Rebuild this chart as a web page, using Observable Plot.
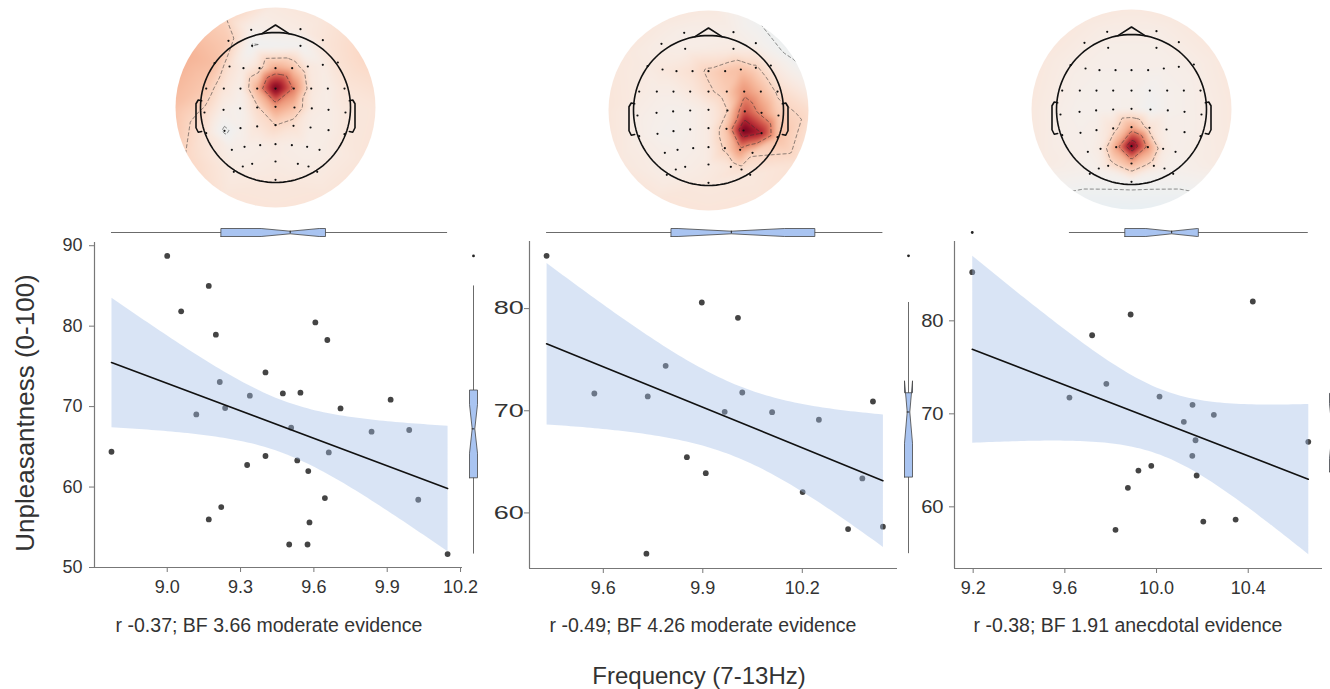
<!DOCTYPE html>
<html><head><meta charset="utf-8">
<script src="https://cdn.jsdelivr.net/npm/d3@7"></script>
<script src="https://cdn.jsdelivr.net/npm/@observablehq/plot@0.6"></script>
<style>
body{margin:0;background:#fff;overflow:hidden;font-family:"Liberation Sans",Arial,sans-serif;}
#root{position:relative;width:1330px;height:689px;overflow:hidden;background:#fff;}
#root > svg, #root > div{position:absolute;}
.txt{color:#333;white-space:nowrap;transform:translate(-50%,-50%);}
</style></head><body><div id="root"></div><script>
// ---------- scatter data (frequency vs unpleasantness) ----------
const p1Freq = [8.772,9.00,9.170,9.057,9.199,9.606,9.655,9.402,9.215,9.338,9.119,9.237,9.473,9.545,9.709,9.914,9.507,9.836,9.990,9.661,9.402,9.327,9.532,9.577,9.645,10.027,9.221,9.170,9.582,9.499,9.574,10.147];
const p1Unpl = [64.39,88.73,85.0,81.84,78.94,80.47,78.28,74.25,73.06,71.36,69.03,69.83,71.64,71.73,69.78,70.86,67.38,66.88,67.09,64.30,63.86,62.74,63.31,61.99,58.63,58.42,57.51,55.97,55.60,52.86,52.86,51.67];
const p2Freq = [9.429,9.897,10.006,9.788,9.573,9.734,10.019,9.966,10.109,10.250,10.413,9.852,9.909,10.381,10.201,10.338,10.443,9.730];
const p2Unpl = [85.17,80.60,79.10,74.40,71.69,71.40,71.79,69.90,69.86,69.12,70.91,65.46,63.89,63.38,62.04,58.42,58.65,56.01];
const p3Freq = [9.196,10.420,9.887,9.719,9.781,9.620,10.013,10.157,10.250,10.119,10.170,10.662,10.156,9.977,9.921,10.175,9.875,10.345,10.204,9.821];
const p3Unpl = [85.23,82.08,80.68,78.45,73.23,71.75,71.86,70.97,69.89,69.14,67.16,66.99,65.48,64.41,63.90,63.37,62.04,58.63,58.42,57.53];

const p1XTicks = [9.0,9.3,9.6,9.9,10.2];
const p2XTicks = [9.6,9.9,10.2];
const p3XTicks = [9.2,9.6,10.0,10.4];
const p1YTicks = [50,60,70,80,90];
const p2YTicks = [60,70,80];
const p3YTicks = [60,70,80];
const p1XDomain = [8.7025,10.208], p1YDomain = [50,90.4];
const p2XDomain = [9.3775,10.487], p2YDomain = [54.56,86.57];
const p3XDomain = [9.1186,10.724], p3YDomain = [53.37,88.53];

const captions = ["r -0.37; BF 3.66 moderate evidence","r -0.49; BF 4.26 moderate evidence","r -0.38; BF 1.91 anecdotal evidence"];
const yTitle = "Unpleasantness (0-100)";
const xTitle = "Frequency (7-13Hz)";

// ---------- topomap data (electrode positions, head-radius units) ----------
const elecX = [-0.324,0.333,-0.627,-0.311,0.333,0.631,
 -0.813,-0.613,-0.427,-0.213,0,0.222,0.431,0.631,0.831,
 -0.924,-0.689,-0.467,-0.244,0,0.244,0.476,0.698,0.92,
 -0.947,-0.693,-0.471,-0.244,0,0.253,0.484,0.707,0.933,
 -0.924,-0.68,-0.467,-0.244,0,0.24,0.467,0.707,0.92,
 -0.582,-0.413,-0.204,0,0.218,0.422,0.587,
 -0.556,-0.436,-0.311,0,0.298,0.44,0.556,0];
const elecY = [1.036,1.044,0.889,0.822,0.822,0.898,
 0.591,0.547,0.524,0.524,0.524,0.524,0.547,0.569,0.6,
 0.253,0.253,0.253,0.253,0.253,0.253,0.253,0.253,0.253,
 -0.067,-0.031,-0.013,0,0.009,0,-0.013,-0.031,-0.067,
 -0.342,-0.311,-0.276,-0.253,-0.236,-0.244,-0.267,-0.302,-0.356,
 -0.564,-0.524,-0.502,-0.489,-0.502,-0.524,-0.564,
 -0.858,-0.787,-0.751,-0.72,-0.751,-0.787,-0.858,-0.964];
const topo1 = [0.04,0.08,0.25,-0.03,-0.01,0.12,
 0.3,0.14,0.07,0.16,0.38,0.3,0.1,0.07,0.14,
 0.26,0.12,0.05,0.36,1.0,0.52,0.1,0.06,0.12,
 0.18,0.05,0.02,0.18,0.42,0.3,0.08,0.06,0.1,
 0.12,-0.04,0.03,0.12,0.2,0.14,0.06,0.06,0.1,
 0.05,0.05,0.06,0.08,0.06,0.05,0.06,
 0.08,0.07,0.07,0.08,0.07,0.07,0.08,0.1];
const topo2 = [0.05,0.05,0.06,0.06,0.08,0.03,
 0.08,0.1,0.12,0.15,0.22,0.28,0.3,0.22,0.1,
 0.08,0.06,0.06,0.1,0.18,0.25,0.45,0.32,0.18,
 0.06,0.04,0.03,0.04,0.08,0.2,0.65,0.45,0.25,
 0.06,0.03,0.02,0.04,0.08,0.28,1.0,0.8,0.3,
 0.05,0.04,0.05,0.08,0.22,0.45,0.22,
 0.06,0.06,0.06,0.08,0.12,0.15,0.1,0.1];
const topo3 = [0.06,0.06,0.07,0.05,0.05,0.07,
 0.06,0.05,0.04,0.04,0.04,0.04,0.04,0.05,0.06,
 0.06,0.04,0.03,0.03,0.03,0.0,0.03,0.04,0.06,
 0.05,0.03,0.03,0.03,0.04,-0.02,0.03,0.04,0.06,
 0.05,0.04,0.05,0.14,0.38,0.14,0.05,0.04,0.06,
 0.04,0.08,0.4,1.0,0.45,0.08,0.04,
 0.02,0.04,0.12,0.35,0.12,0.04,0.02,0.0];
const ringX = [1.4,1.212,0.7,0,-0.7,-1.212,-1.4,-1.212,-0.7,0,0.7,1.212];
const ringY = [0,0.7,1.212,1.4,1.212,0.7,0,-0.7,-1.212,-1.4,-1.212,-0.7];
const ring1 = [0.12,0.2,0.12,0.1,0.22,0.35,0.3,0.2,0.12,0.12,0.12,0.12];
const ring2 = [0.15,-0.05,-0.03,0.1,0.1,0.1,0.12,0.1,0.12,0.12,0.12,0.14];
const ring3 = [0.1,0.1,0.1,0.1,0.1,0.1,0.1,0.08,-0.05,-0.08,-0.05,0.08];
// head outline shapes
const noseX = [-0.18,0,0.18], noseY = [0.984,1.1,0.984];
const earX = [0.985,1.03,1.06,1.06,1.03,0.985], earY = [0.09,0.1,0.05,-0.27,-0.33,-0.32];

// ---------- drawing ----------
const root = document.getElementById("root");
const FONT = "Liberation Sans, Arial, sans-serif";
const ML = 60, MR = 10, MT = 10, MB = 40;
const NS = "http://www.w3.org/2000/svg";

function place(el, left, top) { el.style.left = left + "px"; el.style.top = top + "px"; root.appendChild(el); }

function boxStats(values) {
  const s = d3.sort(values);
  const q1 = d3.quantile(s, 0.25), med = d3.quantile(s, 0.5), q3 = d3.quantile(s, 0.75);
  const iqr = q3 - q1;
  const inside = s.filter(v => v >= q1 - 1.5 * iqr && v <= q3 + 1.5 * iqr);
  const lo = d3.min(inside), hi = d3.max(inside);
  const h = 1.57 * iqr / Math.sqrt(s.length);
  return {q1, med, q3, lo, hi, nlo: med - h, nhi: med + h, outliers: s.filter(v => v < lo || v > hi)};
}
function notch(st, w, nw) {
  return [[st.q1,-w],[st.nlo,-w],[st.med,-nw],[st.nhi,-w],[st.q3,-w],[st.q3,w],[st.nhi,w],[st.med,nw],[st.nlo,w],[st.q1,w],[st.q1,-w]];
}
const BOXFILL = "#a9c4f1";

function panel(cfg) {
  const {xs, ys, xDomain, yDomain, xTicks, yTicks, left, top, right, bottom, rightBoxX, caption, capX, yPad, yStretch} = cfg;
  const W = right - left + ML + MR, H = bottom - top + MT + MB;
  const data = xs.map((x, i) => ({x, y: ys[i]}));
  const chart = Plot.plot({
    width: W, height: H, marginLeft: ML, marginRight: MR, marginTop: MT, marginBottom: MB,
    style: {fontFamily: FONT, fontSize: "18px", color: "#333", background: "transparent", overflow: "visible"},
    x: {domain: xDomain, axis: null},
    y: {domain: yDomain, axis: null},
    marks: [
      Plot.axisX({ticks: xTicks, tickFormat: d3.format(".1f"), tickSize: 5, tickPadding: 8, stroke: "#777", fill: "#333", label: null}),
      Plot.axisY({ticks: yTicks, tickSize: 5, tickPadding: yPad, stroke: "#777", fill: "#333", label: null}),
      Plot.ruleX([xDomain[0]], {stroke: "#777", strokeWidth: 1.2}),
      Plot.ruleY([yDomain[0]], {stroke: "#777", strokeWidth: 1.2}),
      Plot.dot(data, {x: "x", y: "y", r: 2.9, fill: "#444", stroke: "none"}),
      Plot.linearRegressionY(data, {x: "x", y: "y", ci: 0.95, stroke: "#111", strokeWidth: 1.6, fill: "#a2bde6", fillOpacity: 0.41})
    ]
  });
  // horizontally stretch the y tick labels (as in the reference panels)
  const lab = chart.querySelector('g[aria-label="y-axis tick label"]');
  if (lab && yStretch !== 1) {
    const ax = ML - 5 - yPad;
    const wrap = document.createElementNS(NS, "g");
    wrap.setAttribute("transform", `translate(${ax},0) scale(${yStretch},1) translate(${-ax},0)`);
    lab.parentNode.insertBefore(wrap, lab);
    wrap.appendChild(lab);
  }
  place(chart, left - ML, top - MT);

  // top marginal notched box (x values)
  const sx = boxStats(xs);
  const topBox = Plot.plot({
    width: W, height: 24, marginLeft: ML, marginRight: MR, marginTop: 0, marginBottom: 0,
    style: {background: "transparent", overflow: "visible"},
    x: {domain: xDomain, axis: null}, y: {domain: [-12, 12], axis: null},
    marks: [
      Plot.ruleY([0], {x1: sx.lo, x2: sx.hi, stroke: "#6b6b6b", strokeWidth: 1}),
      Plot.line(notch(sx, 4, 1.3), {x: d => d[0], y: d => d[1], fill: BOXFILL, stroke: "#444", strokeWidth: 0.8}),
      Plot.ruleX([sx.med], {y1: -1.3, y2: 1.3, stroke: "#222", strokeWidth: 1}),
      Plot.dot(sx.outliers, {x: d => d, y: 0, r: 1.4, fill: "#222", stroke: "none"})
    ]
  });
  place(topBox, left - ML, 220);

  // right marginal notched box (y values)
  const sy = boxStats(ys);
  const rBox = Plot.plot({
    width: 24, height: H, marginLeft: 0, marginRight: 0, marginTop: MT, marginBottom: MB,
    style: {background: "transparent", overflow: "visible"},
    y: {domain: yDomain, axis: null}, x: {domain: [-12, 12], axis: null},
    marks: [
      Plot.ruleX([0], {y1: sy.lo, y2: sy.hi, stroke: "#6b6b6b", strokeWidth: 1}),
      Plot.line(notch(sy, 4, 1.3), {y: d => d[0], x: d => d[1], fill: BOXFILL, stroke: "#444", strokeWidth: 0.8}),
      Plot.ruleY([sy.med], {x1: -1.3, x2: 1.3, stroke: "#222", strokeWidth: 1}),
      Plot.dot(sy.outliers, {y: d => d, x: 0, r: 1.4, fill: "#222", stroke: "none"})
    ]
  });
  place(rBox, rightBoxX - 12, top - MT);

  const cap = document.createElement("div");
  cap.className = "txt"; cap.textContent = caption;
  cap.style.fontSize = "19.5px";
  place(cap, capX, 625);
}

panel({xs: p1Freq, ys: p1Unpl, xDomain: p1XDomain, yDomain: p1YDomain, xTicks: p1XTicks, yTicks: p1YTicks,
  left: 94, right: 462, top: 242, bottom: 567, rightBoxX: 473, caption: captions[0], capX: 269, yPad: 7, yStretch: 1});
panel({xs: p2Freq, ys: p2Unpl, xDomain: p2XDomain, yDomain: p2YDomain, xTicks: p2XTicks, yTicks: p2YTicks,
  left: 529, right: 897, top: 241, bottom: 568, rightBoxX: 908, caption: captions[1], capX: 703, yPad: 1, yStretch: 1.5});
panel({xs: p3Freq, ys: p3Unpl, xDomain: p3XDomain, yDomain: p3YDomain, xTicks: p3XTicks, yTicks: p3YTicks,
  left: 954, right: 1322, top: 241, bottom: 568, rightBoxX: 1333, caption: captions[2], capX: 1128, yPad: 6, yStretch: 1.12});

// titles
const yt = document.createElement("div");
yt.className = "txt"; yt.textContent = yTitle;
yt.style.fontSize = "26px"; yt.style.transform = "translate(-50%,-50%) rotate(-90deg)";
place(yt, 25, 413);
const xt = document.createElement("div");
xt.className = "txt"; xt.textContent = xTitle;
xt.style.fontSize = "24px";
place(xt, 699, 676);

// topomaps
const HALF = 1.4667, DISC = 1.333;
function topomap(values, ringVals, cx, cy, thresholds, id) {
  const pts = elecX.map((x, i) => ({x, y: elecY[i], v: values[i]}))
    .concat(ringX.map((x, i) => ({x, y: ringY[i], v: ringVals[i]})));
  const elec = elecX.map((x, i) => ({x, y: elecY[i]}));
  const circle = d3.range(0, 361, 3).map(a => ({x: Math.cos(a * Math.PI / 180), y: Math.sin(a * Math.PI / 180)}));
  const nose = noseX.map((x, i) => ({x, y: noseY[i]}));
  const earR = earX.map((x, i) => ({x, y: earY[i]}));
  const earL = earX.map((x, i) => ({x: -x, y: earY[i]}));
  const chart = Plot.plot({
    width: 220, height: 220, margin: 0,
    style: {background: "transparent", overflow: "visible"},
    x: {domain: [-HALF, HALF], axis: null}, y: {domain: [-HALF, HALF], axis: null},
    color: {type: "diverging", scheme: "RdBu", reverse: true, domain: [-1, 1], pivot: 0},
    marks: [
      Plot.raster(pts, {x: "x", y: "y", fill: "v", interpolate: "barycentric", x1: -HALF, x2: HALF, y1: -HALF, y2: HALF, pixelSize: 1}),
      Plot.contour(pts, {x: "x", y: "y", value: "v", interpolate: "barycentric", x1: -HALF, x2: HALF, y1: -HALF, y2: HALF, pixelSize: 2,
        thresholds, fill: "none", stroke: "#333", strokeWidth: 0.7, strokeDasharray: "4,2", strokeOpacity: 0.8}),
      Plot.line(circle, {x: "x", y: "y", stroke: "#111", strokeWidth: 1.6}),
      Plot.line(nose, {x: "x", y: "y", stroke: "#111", strokeWidth: 1.6}),
      Plot.line(earR, {x: "x", y: "y", stroke: "#111", strokeWidth: 1.6}),
      Plot.line(earL, {x: "x", y: "y", stroke: "#111", strokeWidth: 1.6}),
      Plot.dot(elec, {x: "x", y: "y", r: 1.1, fill: "#111", stroke: "none"})
    ]
  });
  const sx = chart.scale("x");
  const px = sx.apply(0), py = chart.scale("y").apply(0), pr = sx.apply(DISC) - sx.apply(0);
  const defs = document.createElementNS(NS, "defs");
  const cp = document.createElementNS(NS, "clipPath"); cp.setAttribute("id", id);
  const c = document.createElementNS(NS, "circle");
  c.setAttribute("cx", px); c.setAttribute("cy", py); c.setAttribute("r", pr);
  cp.appendChild(c); defs.appendChild(cp); chart.insertBefore(defs, chart.firstChild);
  const r = chart.querySelector('g[aria-label="raster"]');
  if (r) { r.setAttribute("clip-path", `url(#${id})`); const im = r.querySelector("image"); if (im) im.style.filter = "blur(2.2px)"; }
  const ct = chart.querySelector('g[aria-label="contour"]');
  if (ct) ct.setAttribute("clip-path", `url(#${id})`);
  place(chart, cx - 110, cy - 110);
}
topomap(topo1, ring1, 275, 107, [-0.02, 0.2, 0.55], "clip1");
topomap(topo2, ring2, 708, 110, [-0.02, 0.2, 0.5, 0.8], "clip2");
topomap(topo3, ring3, 1131, 109, [-0.02, 0.2, 0.5, 0.8], "clip3");
</script></body></html>
